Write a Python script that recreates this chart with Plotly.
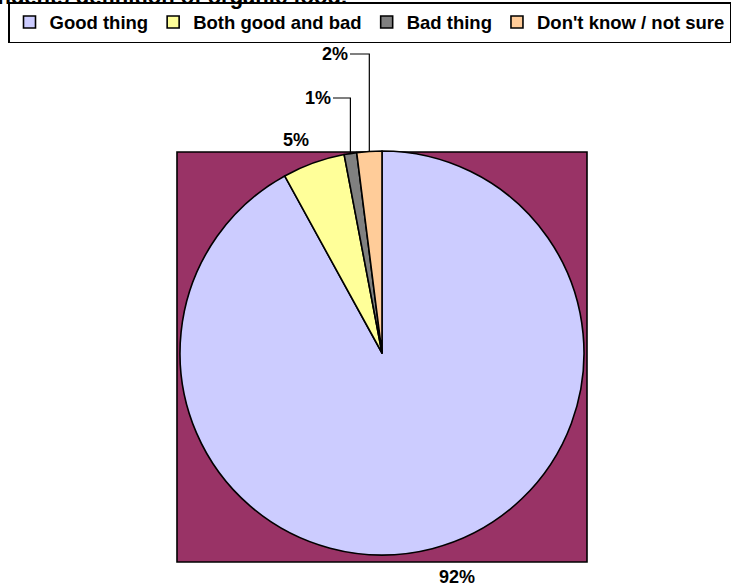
import math
import plotly.graph_objects as go

# ---- data ----
categories = ["Good thing", "Both good and bad", "Bad thing", "Don't know / not sure"]
values = [92, 5, 1, 2]
colors = ["#CCCCFF", "#FFFF99", "#808080", "#FFCC99"]
title_text = "Respondents definition of organic food."

W, H = 742, 587
# pie geometry in pixels (layout)
cx, cy, r = 382, 353, 202
sq = (177, 152, 587, 562)  # plot-area square x0,y0,x1,y1

def px(x):
    return x / W

def py(y):
    return 1 - y / H

FONT = "Liberation Sans, Arial, sans-serif"

fig = go.Figure(go.Pie(
    labels=categories,
    values=values,
    marker=dict(colors=colors, line=dict(color="black", width=1.6)),
    sort=False,
    direction="clockwise",
    rotation=0,
    textinfo="none",
    hoverinfo="label+percent",
    domain=dict(x=[px(cx - r), px(cx + r)], y=[py(cy + r), py(cy - r)]),
))

# plot-area background square
fig.add_shape(type="rect", xref="paper", yref="paper",
              x0=px(sq[0]), x1=px(sq[2]), y0=py(sq[3]), y1=py(sq[1]),
              fillcolor="#993366", line=dict(color="black", width=1.6), layer="below")

# ---- labels (percentages from data), positions in layout ----
total = sum(values)
cum = 0
mids = []
for v in values:
    mids.append((cum + v / 2) / total * 360.0)
    cum += v

def edge(i):
    a = math.radians(mids[i])
    return cx + r * math.sin(a), cy - r * math.cos(a)

label_pos = {0: (457, 577, None), 1: (296, 140, None), 2: (318, 98, "lead"), 3: (335, 54, "lead")}
for i, (lx, ly, lead) in label_pos.items():
    pct = f"{round(values[i] / total * 100)}%"
    fig.add_annotation(x=px(lx), y=py(ly), xref="paper", yref="paper", text=pct,
                       showarrow=False, xanchor="center", yanchor="middle",
                       font=dict(family=FONT, size=18, color="black", weight="bold"))
    if lead:
        ex, ey = edge(i)
        x_start = lx + 15
        fig.add_shape(type="path", xref="paper", yref="paper",
                      path=f"M {px(x_start)} {py(ly)} L {px(ex)} {py(ly)} L {px(ex)} {py(ey)}",
                      line=dict(color="black", width=1.2))

fig.update_layout(
    width=W, height=H,
    margin=dict(l=0, r=0, t=0, b=0),
    paper_bgcolor="white",
    font=dict(family=FONT, size=18, color="black", weight="bold"),
    title=dict(text=title_text, x=px(347), xanchor="right", xref="container",
               y=1 - 4 / H, yanchor="bottom", yref="container",
               font=dict(family=FONT, size=22, color="black", weight="bold")),
    showlegend=True,
    legend=dict(orientation="h", x=px(8), y=py(2), xanchor="left", yanchor="top",
                bordercolor="black", borderwidth=1.5, bgcolor="white",
                itemwidth=30, traceorder="normal",
                font=dict(family=FONT, size=18.5, color="black", weight="bold")),
)

fig.write_html("out.html")
